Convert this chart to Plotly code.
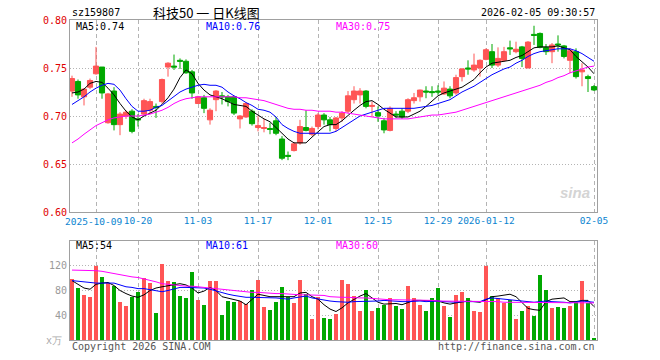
import pandas as pd
import plotly.graph_objects as go

# ---------------- data ----------------
holidays = ["2025-10-01", "2025-10-02", "2025-10-03", "2025-10-06", "2025-10-07",
            "2025-10-08", "2026-01-01", "2026-01-02"]
dates = [d.strftime("%Y-%m-%d") for d in
         pd.bdate_range("2025-09-25", "2026-02-05", freq="C", holidays=holidays)]

open_ = [0.726, 0.736, 0.720, 0.730, 0.744, 0.751, 0.693, 0.726, 0.691, 0.700,
         0.705, 0.697, 0.702, 0.706, 0.710, 0.715, 0.751, 0.752, 0.758, 0.757,
         0.746, 0.713, 0.719, 0.696, 0.717, 0.721, 0.720, 0.720, 0.697, 0.699,
         0.705, 0.688, 0.687, 0.687, 0.695, 0.676, 0.659, 0.664, 0.672, 0.688,
         0.681, 0.689, 0.701, 0.696, 0.687, 0.698, 0.705, 0.717, 0.722, 0.726,
         0.710, 0.7035, 0.695, 0.685, 0.702, 0.705, 0.705, 0.716, 0.720, 0.726,
         0.7254, 0.726, 0.723, 0.728, 0.724, 0.741, 0.750, 0.748, 0.750, 0.759,
         0.767, 0.753, 0.758, 0.771, 0.767, 0.772, 0.750, 0.785, 0.786, 0.7715,
         0.767, 0.775, 0.773, 0.758, 0.767, 0.746, 0.741, 0.7306]
high = [0.742, 0.738, 0.729, 0.739, 0.772, 0.751, 0.724, 0.730, 0.704, 0.706,
        0.707, 0.702, 0.718, 0.718, 0.713, 0.739, 0.756, 0.764, 0.760, 0.759,
        0.748, 0.721, 0.722, 0.708, 0.727, 0.725, 0.722, 0.721, 0.701, 0.714,
        0.707, 0.700, 0.697, 0.693, 0.699, 0.679, 0.663, 0.673, 0.696, 0.706,
        0.689, 0.703, 0.703, 0.699, 0.699, 0.705, 0.726, 0.731, 0.729, 0.727,
        0.715, 0.710, 0.698, 0.710, 0.705, 0.708, 0.7185, 0.724, 0.7275, 0.731,
        0.731, 0.732, 0.736, 0.731, 0.743, 0.750, 0.758, 0.765, 0.759, 0.7705,
        0.775, 0.7715, 0.772, 0.7785, 0.7774, 0.773, 0.778, 0.794, 0.787, 0.775,
        0.776, 0.784, 0.774, 0.7705, 0.7705, 0.755, 0.743, 0.7323]
low = [0.720, 0.718, 0.711, 0.728, 0.743, 0.718, 0.692, 0.685, 0.680, 0.697,
       0.682, 0.689, 0.700, 0.702, 0.698, 0.713, 0.741, 0.748, 0.749, 0.744,
       0.718, 0.713, 0.703, 0.691, 0.705, 0.712, 0.710, 0.701, 0.687, 0.698,
       0.690, 0.684, 0.683, 0.681, 0.680, 0.654, 0.654, 0.663, 0.670, 0.684,
       0.679, 0.686, 0.691, 0.684, 0.684, 0.694, 0.703, 0.713, 0.713, 0.708,
       0.699, 0.694, 0.682, 0.684, 0.698, 0.697, 0.703, 0.713, 0.715, 0.7185,
       0.720, 0.722, 0.722, 0.7185, 0.722, 0.736, 0.743, 0.746, 0.741, 0.758,
       0.750, 0.751, 0.7566, 0.7636, 0.7653, 0.751, 0.750, 0.774, 0.7705, 0.7636,
       0.755, 0.767, 0.760, 0.7445, 0.739, 0.731, 0.725, 0.7261]
close = [0.739, 0.722, 0.728, 0.737, 0.752, 0.724, 0.723, 0.691, 0.702, 0.704,
         0.684, 0.696, 0.716, 0.715, 0.709, 0.738, 0.755, 0.751, 0.757, 0.745,
         0.724, 0.720, 0.708, 0.706, 0.726, 0.720, 0.715, 0.703, 0.700, 0.713,
         0.692, 0.690, 0.688, 0.686, 0.682, 0.656, 0.658, 0.671, 0.689, 0.685,
         0.687, 0.701, 0.696, 0.691, 0.698, 0.703, 0.721, 0.726, 0.726, 0.710,
         0.711, 0.700, 0.6855, 0.708, 0.701, 0.699, 0.717, 0.719, 0.727, 0.725,
         0.7244, 0.725, 0.729, 0.721, 0.740, 0.749, 0.749, 0.753, 0.758, 0.769,
         0.753, 0.760, 0.767, 0.770, 0.7695, 0.760, 0.777, 0.784, 0.7715, 0.767,
         0.774, 0.774, 0.762, 0.768, 0.741, 0.748, 0.739, 0.7271]

ma5 = [0.724, 0.725, 0.728, 0.734, 0.736, 0.735, 0.729, 0.722, 0.713, 0.705,
       0.699, 0.696, 0.700, 0.703, 0.706, 0.712, 0.719, 0.728, 0.740, 0.748,
       0.744, 0.734, 0.727, 0.722, 0.720, 0.718, 0.715, 0.712, 0.711, 0.710,
       0.705, 0.701, 0.697, 0.694, 0.688, 0.682, 0.676, 0.672, 0.672, 0.672,
       0.678, 0.683, 0.689, 0.691, 0.691, 0.695, 0.701, 0.706, 0.711, 0.715,
       0.716, 0.712, 0.707, 0.703, 0.699, 0.699, 0.699, 0.702, 0.705, 0.710,
       0.715, 0.721, 0.724, 0.726, 0.728, 0.730, 0.734, 0.738, 0.745, 0.751,
       0.755, 0.756, 0.757, 0.758, 0.761, 0.763, 0.767, 0.771, 0.772, 0.772,
       0.772, 0.773, 0.771, 0.769, 0.762, 0.757, 0.751, 0.744]
ma10 = [0.712, 0.716, 0.720, 0.725, 0.729, 0.732, 0.734, 0.733, 0.727, 0.718,
        0.710, 0.705, 0.705, 0.706, 0.709, 0.711, 0.716, 0.721, 0.725, 0.728,
        0.730, 0.732, 0.733, 0.732, 0.732, 0.730, 0.725, 0.721, 0.718, 0.714,
        0.711, 0.707, 0.706, 0.704, 0.699, 0.691, 0.687, 0.684, 0.682, 0.682,
        0.682, 0.682, 0.682, 0.682, 0.684, 0.688, 0.692, 0.696, 0.700, 0.702,
        0.704, 0.706, 0.708, 0.708, 0.708, 0.708, 0.708, 0.708, 0.709, 0.710,
        0.711, 0.713, 0.715, 0.717, 0.721, 0.725, 0.728, 0.731, 0.735, 0.739,
        0.743, 0.746, 0.749, 0.751, 0.755, 0.758, 0.762, 0.765, 0.767, 0.768,
        0.769, 0.770, 0.770, 0.770, 0.768, 0.765, 0.761, 0.757]
ma30 = [0.672, 0.676, 0.681, 0.686, 0.690, 0.693, 0.696, 0.698, 0.699, 0.700,
        0.700, 0.700, 0.701, 0.702, 0.704, 0.706, 0.709, 0.713, 0.716, 0.718,
        0.719, 0.720, 0.720, 0.720, 0.720, 0.720, 0.720, 0.720, 0.719, 0.719,
        0.718, 0.717, 0.716, 0.714, 0.712, 0.710, 0.708, 0.707, 0.707, 0.706,
        0.706, 0.705, 0.705, 0.705, 0.704, 0.704, 0.703, 0.702, 0.701, 0.700,
        0.699, 0.698, 0.697, 0.697, 0.697, 0.697, 0.697, 0.698, 0.699, 0.700,
        0.701, 0.701, 0.702, 0.703, 0.704, 0.706, 0.708, 0.710, 0.712, 0.714,
        0.716, 0.718, 0.720, 0.722, 0.724, 0.726, 0.728, 0.730, 0.732, 0.735,
        0.737, 0.740, 0.742, 0.745, 0.747, 0.749, 0.751, 0.752]

volume = [98.7, 83.7, 72.0, 68.8, 119.0, 102.4, 91.7, 88.0, 61.3, 54.4,
          69.3, 77.3, 101.0, 91.7, 43.7, 123.2, 96.0, 94.4, 70.4, 67.7,
          109.3, 65.0, 56.0, 96.0, 96.0, 40.0, 62.4, 61.3, 62.4, 58.7,
          81.6, 97.6, 53.3, 48.0, 61.3, 85.3, 69.3, 59.7, 97.6, 74.7,
          33.6, 68.8, 35.7, 34.7, 42.0, 97.6, 91.2, 70.4, 46.4, 81.6,
          46.4, 51.2, 57.1, 67.2, 55.0, 49.6, 86.9, 67.2, 56.0, 46.4,
          68.3, 84.8, 54.4, 36.8, 72.0, 76.8, 67.2, 46.4, 44.8, 119.0,
          70.4, 67.2, 59.7, 64.0, 33.6, 46.4, 54.4, 38.4, 105.6, 81.6,
          51.2, 52.8, 51.2, 54.4, 61.3, 96.0, 59.2, 2.0]
vma5 = [96, 90, 84, 82, 90, 92, 93, 88, 80, 75, 71, 69, 73, 80, 84, 86, 88, 90, 91, 89,
        84, 76, 79, 85, 80, 70, 68, 66, 63, 57, 66, 74, 72, 70, 70, 70, 70, 70, 76, 77,
        70, 66, 57, 50, 46, 52, 60, 66, 71, 75, 68, 61, 58, 59, 59, 57, 61, 64, 64, 64,
        64, 63, 60, 58, 60, 62, 63, 62, 61, 65, 70, 71, 72, 74, 70, 60, 51, 49, 48, 62,
        66, 67, 68, 62, 62, 64, 64, 54]
vma10 = [96, 95, 94, 92, 92, 92, 92, 92, 89, 86, 85, 83, 83, 81, 79, 78, 80, 83, 85, 85,
         85, 85, 84, 82, 79, 76, 74, 72, 70, 69, 69, 69, 69, 68, 68, 67, 66, 68, 70, 71,
         68, 66, 65, 63, 62, 61, 61, 62, 62, 62, 62, 63, 64, 63, 62, 62, 62, 63, 63, 62,
         63, 63, 62, 61, 61, 62, 62, 62, 62, 66, 68, 67, 66, 65, 64, 62, 61, 61, 62, 63,
         62, 62, 61, 60, 61, 63, 62, 61]
vma30 = [113, 113, 112, 112, 112, 111, 109, 108, 106, 104, 102, 101, 99, 97, 94, 91, 90, 88,
         88, 87, 87, 86, 85, 84, 83, 81, 80, 79, 79, 78, 77, 77, 76, 76, 75, 75, 74, 74,
         73, 73, 73, 72, 72, 70, 69, 69, 69, 68, 68, 68, 67, 66, 66, 65, 65, 65, 65, 64,
         64, 64, 64, 63, 63, 63, 62, 62, 62, 62, 62, 62, 62, 62, 61, 61, 61, 61, 61, 61,
         61, 61, 61, 61, 61, 60, 60, 60, 60, 60]

tick_dates = ["2025-10-09", "2025-10-20", "2025-11-03", "2025-11-17", "2025-12-01",
              "2025-12-15", "2025-12-29", "2026-01-12", "2026-02-05"]
tick_text = ["2025-10-09", "10-20", "11-03", "11-17", "12-01",
             "12-15", "12-29", "2026-01-12", "02-05"]
price_ticks = [0.60, 0.65, 0.70, 0.75, 0.80]
vol_ticks = [40, 80, 120]

# ---------------- style ----------------
RED = "#ff5555"
GREEN = "#00a800"
MONO = "DejaVu Sans Mono"
GRID = "#b4b4b4"
FRAME = "#a0a0a0"
XLAB = "#0a84d0"

W, H = 660, 360
L, R, T, B = 70, 63, 20, 20
pw, ph = W - L - R, H - T - B


def px(x):
    return (x - L) / pw


def py(y):
    return (H - B - y) / ph


x_idx = list(range(len(dates)))
tick_idx = [dates.index(d) for d in tick_dates]
# first label is placed separately (shifted left, as in the original)
axis_text = [""] + tick_text[1:]

fig = go.Figure()
fig.add_trace(go.Candlestick(
    x=x_idx, open=open_, high=high, low=low, close=close,
    increasing=dict(line=dict(color=RED, width=1), fillcolor=RED),
    decreasing=dict(line=dict(color=GREEN, width=1), fillcolor=GREEN),
    whiskerwidth=0, xaxis="x", yaxis="y", hoverinfo="skip", showlegend=False))
for arr, col in [(ma5, "#000000"), (ma10, "#0000ff"), (ma30, "#ff00ff")]:
    fig.add_trace(go.Scatter(x=x_idx, y=arr, mode="lines", line=dict(color=col, width=1),
                             xaxis="x", yaxis="y", hoverinfo="skip", showlegend=False))

vol_colors = [RED if c >= o else GREEN for o, c in zip(open_, close)]
fig.add_trace(go.Bar(x=x_idx, y=volume, marker=dict(color=vol_colors, line=dict(width=0)),
                     width=0.82, xaxis="x2", yaxis="y2", hoverinfo="skip", showlegend=False))
for arr, col in [(vma5, "#000000"), (vma10, "#0000ff"), (vma30, "#ff00ff")]:
    fig.add_trace(go.Scatter(x=x_idx, y=arr, mode="lines", line=dict(color=col, width=1),
                             xaxis="x2", yaxis="y2", hoverinfo="skip", showlegend=False))

xr = [-1 / 3, len(dates) - 0.5]
common_x = dict(range=xr, showgrid=True, gridcolor=GRID, griddash="4px,3px", gridwidth=1,
                tickvals=tick_idx, zeroline=False, showline=True, mirror=True,
                linecolor=FRAME, linewidth=1, ticks="", fixedrange=True, tickangle=0)
fig.update_layout(
    width=W, height=H, margin=dict(l=L, r=R, t=T, b=B),
    paper_bgcolor="white", plot_bgcolor="white",
    boxgap=0.15, boxgroupgap=0, bargap=0, hovermode=False,
    font=dict(family=MONO, size=10, color="#000"),
    xaxis=dict(common_x, domain=[0, 1], anchor="y", ticktext=axis_text, showticklabels=True,
               tickfont=dict(family=MONO, size=9.5, color=XLAB),
               rangeslider=dict(visible=False)),
    yaxis=dict(domain=[py(212), 1], range=[0.60, 0.80], tickvals=price_ticks, tickformat=".2f",
               showgrid=True, gridcolor=GRID, griddash="1px,2px", zeroline=False,
               showline=True, mirror=True, linecolor=FRAME, linewidth=1, ticks="",
               tickfont=dict(family=MONO, size=10, color="#e00000"), anchor="x",
               fixedrange=True),
    xaxis2=dict(common_x, domain=[0, 1], anchor="y2", showticklabels=False, matches="x"),
    yaxis2=dict(domain=[0, py(241)], range=[0, 160], tickvals=vol_ticks,
                showgrid=True, gridcolor=GRID, griddash="1px,2px", zeroline=False,
                showline=True, mirror=True, linecolor=FRAME, linewidth=1, ticks="",
                tickfont=dict(family=MONO, size=10, color="#9a9a9a"), anchor="x2",
                fixedrange=True),
)

ann = []


def text(x, y, s, color="#000", size=10, xanchor="left", family=MONO, **kw):
    ann.append(dict(x=px(x), y=py(y), xref="paper", yref="paper", text=s, showarrow=False,
                    xanchor=xanchor, yanchor="middle",
                    font=dict(family=family, size=size, color=color), **kw))


text(70, 13, "sz159807")
text(206, 13, "科技50 一 日K线图", xanchor="center", size=13, family="Noto Sans CJK SC")
text(597, 13, "2026-02-05 09:30:57", xanchor="right")
text(63, 221, tick_text[0], color=XLAB, size=9.5)
text(74, 26, f"MA5:{ma5[-1]:.2f}")
text(204, 26, f"MA10:{ma10[-1]:.2f}", color="#0000ff")
text(334, 26, f"MA30:{ma30[-1]:.2f}", color="#ff00ff")
text(74, 245, f"MA5:{vma5[-1]:.0f}")
text(204, 245, f"MA10:{vma10[-1]:.0f}", color="#0000ff")
text(334, 245, f"MA30:{vma30[-1]:.0f}", color="#ff00ff")
text(70, 346, "Copyright 2026 SINA.COM", color="#555555")
text(597, 346, "http://finance.sina.com.cn", color="#555555", xanchor="right")
text(64, 340, "x万", color="#aaaaaa", xanchor="right")
text(575, 192, "<b><i>sina</i></b>", color="#d4d4d4", size=15, xanchor="center",
     family="Liberation Sans")
fig.update_layout(annotations=ann)

fig.write_html("out.html")
